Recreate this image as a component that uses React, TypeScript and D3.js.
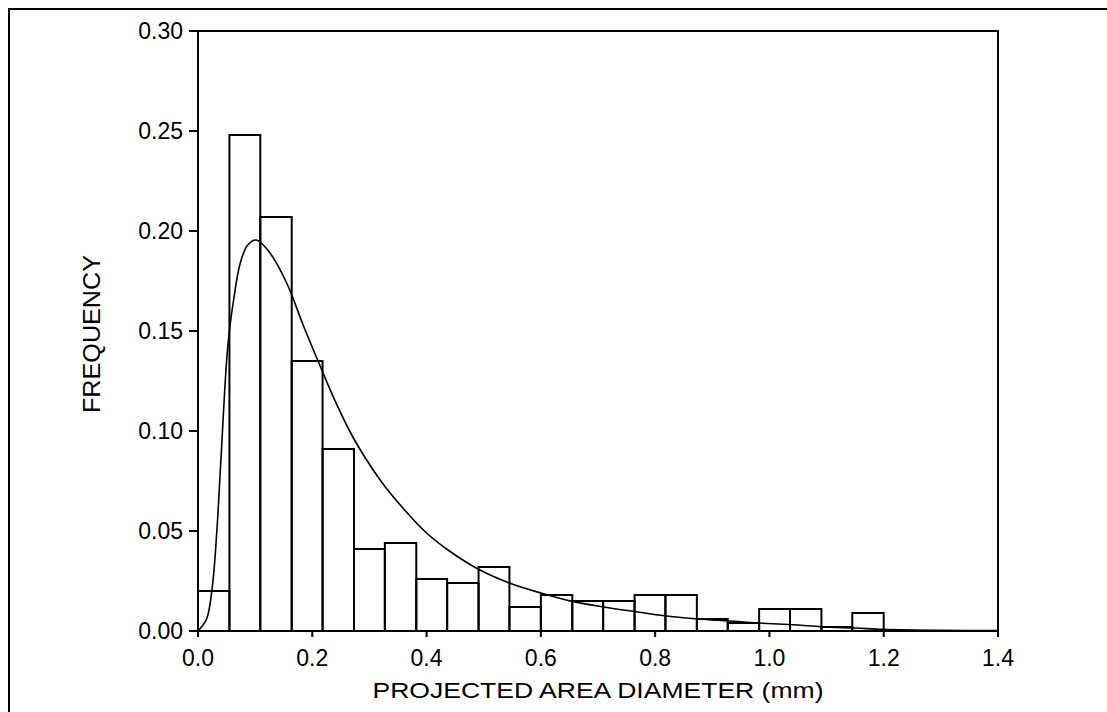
import React from "react";
import * as d3 from "d3";

const binStarts = [0, 0.055, 0.109, 0.164, 0.218, 0.273, 0.327, 0.382, 0.436, 0.491, 0.545, 0.6, 0.655, 0.709, 0.764, 0.818, 0.873, 0.927, 0.982, 1.036, 1.091, 1.145];
const binEnd = 1.2;
const frequencies = [0.020, 0.248, 0.207, 0.135, 0.091, 0.041, 0.044, 0.026, 0.024, 0.032, 0.012, 0.018, 0.015, 0.015, 0.018, 0.018, 0.006, 0.004, 0.011, 0.011, 0.002, 0.009];

const curveX = [0, 0.015, 0.025, 0.033, 0.04, 0.052, 0.062, 0.074, 0.087, 0.102, 0.126, 0.156, 0.184, 0.213, 0.24, 0.271, 0.32, 0.36, 0.40, 0.44, 0.49, 0.545, 0.6, 0.655, 0.71, 0.77, 0.82, 0.875, 0.93, 0.98, 1.05, 1.1, 1.15, 1.2, 1.3, 1.4];
const curveY = [0, 0.006, 0.022, 0.05, 0.085, 0.142, 0.165, 0.184, 0.193, 0.1955, 0.189, 0.1735, 0.153, 0.133, 0.115, 0.097, 0.075, 0.061, 0.049, 0.040, 0.031, 0.024, 0.019, 0.0148, 0.012, 0.0095, 0.0075, 0.006, 0.005, 0.004, 0.003, 0.002, 0.0015, 0.0008, 0.0003, 0.0002];

const xTicks = [0, 0.2, 0.4, 0.6, 0.8, 1.0, 1.2, 1.4];
const yTicks = [0, 0.05, 0.1, 0.15, 0.2, 0.25, 0.3];
const xTitle = "PROJECTED AREA DIAMETER (mm)";
const yTitle = "FREQUENCY";

const W = 1107;
const H = 712;
const L = 198, R = 998, T = 31, B = 631;
const font = "'Liberation Sans', Arial, Helvetica, sans-serif";

export default function App() {
  const x = d3.scaleLinear().domain([0, 1.4]).range([L, R]);
  const y = d3.scaleLinear().domain([0, 0.3]).range([B, T]);
  const line = d3
    .line<number>()
    .x((_, i) => x(curveX[i]))
    .y((d) => y(d))
    .curve(d3.curveCatmullRom.alpha(0.5));

  return (
    <svg
      width={W}
      height={H}
      style={{ position: "absolute", left: 0, top: 0, background: "#fff" }}
    >
      <rect x={0} y={0} width={W} height={H} fill="#fff" />
      <rect x={9} y={9} width={W + 20} height={H + 20} fill="none" stroke="#000" strokeWidth={2} />
      {frequencies.map((f, i) => {
        const x0 = x(binStarts[i]);
        const x1 = x(i + 1 < binStarts.length ? binStarts[i + 1] : binEnd);
        return (
          <rect
            key={i}
            x={x0}
            y={y(f)}
            width={x1 - x0}
            height={y(0) - y(f)}
            fill="none"
            stroke="#000"
            strokeWidth={2}
          />
        );
      })}
      <path d={line(curveY) || ""} fill="none" stroke="#000" strokeWidth={1.6} />
      <rect x={L} y={T} width={R - L} height={B - T} fill="none" stroke="#000" strokeWidth={2} />
      {yTicks.map((t) => (
        <g key={"y" + t}>
          <line x1={L - 9} x2={L} y1={y(t)} y2={y(t)} stroke="#000" strokeWidth={2} />
          <text
            x={L - 15}
            y={y(t)}
            dy="0.36em"
            textAnchor="end"
            fontFamily={font}
            fontSize={23}
            fill="#000"
          >
            {t.toFixed(2)}
          </text>
        </g>
      ))}
      {xTicks.map((t) => (
        <g key={"x" + t}>
          <line x1={x(t)} x2={x(t)} y1={B} y2={B + 6} stroke="#000" strokeWidth={2} />
          <text
            x={x(t)}
            y={B + 35}
            textAnchor="middle"
            fontFamily={font}
            fontSize={23}
            fill="#000"
          >
            {t.toFixed(1)}
          </text>
        </g>
      ))}
      <text
        x={(L + R) / 2}
        y={698}
        textAnchor="middle"
        fontFamily={font}
        fontSize={22.5}
        textLength={451}
        lengthAdjust="spacingAndGlyphs"
        fill="#000"
      >
        {xTitle}
      </text>
      <text
        transform={`translate(100, 334) rotate(-90)`}
        textAnchor="middle"
        fontFamily={font}
        fontSize={23}
        textLength={158}
        lengthAdjust="spacingAndGlyphs"
        fill="#000"
      >
        {yTitle}
      </text>
    </svg>
  );
}
